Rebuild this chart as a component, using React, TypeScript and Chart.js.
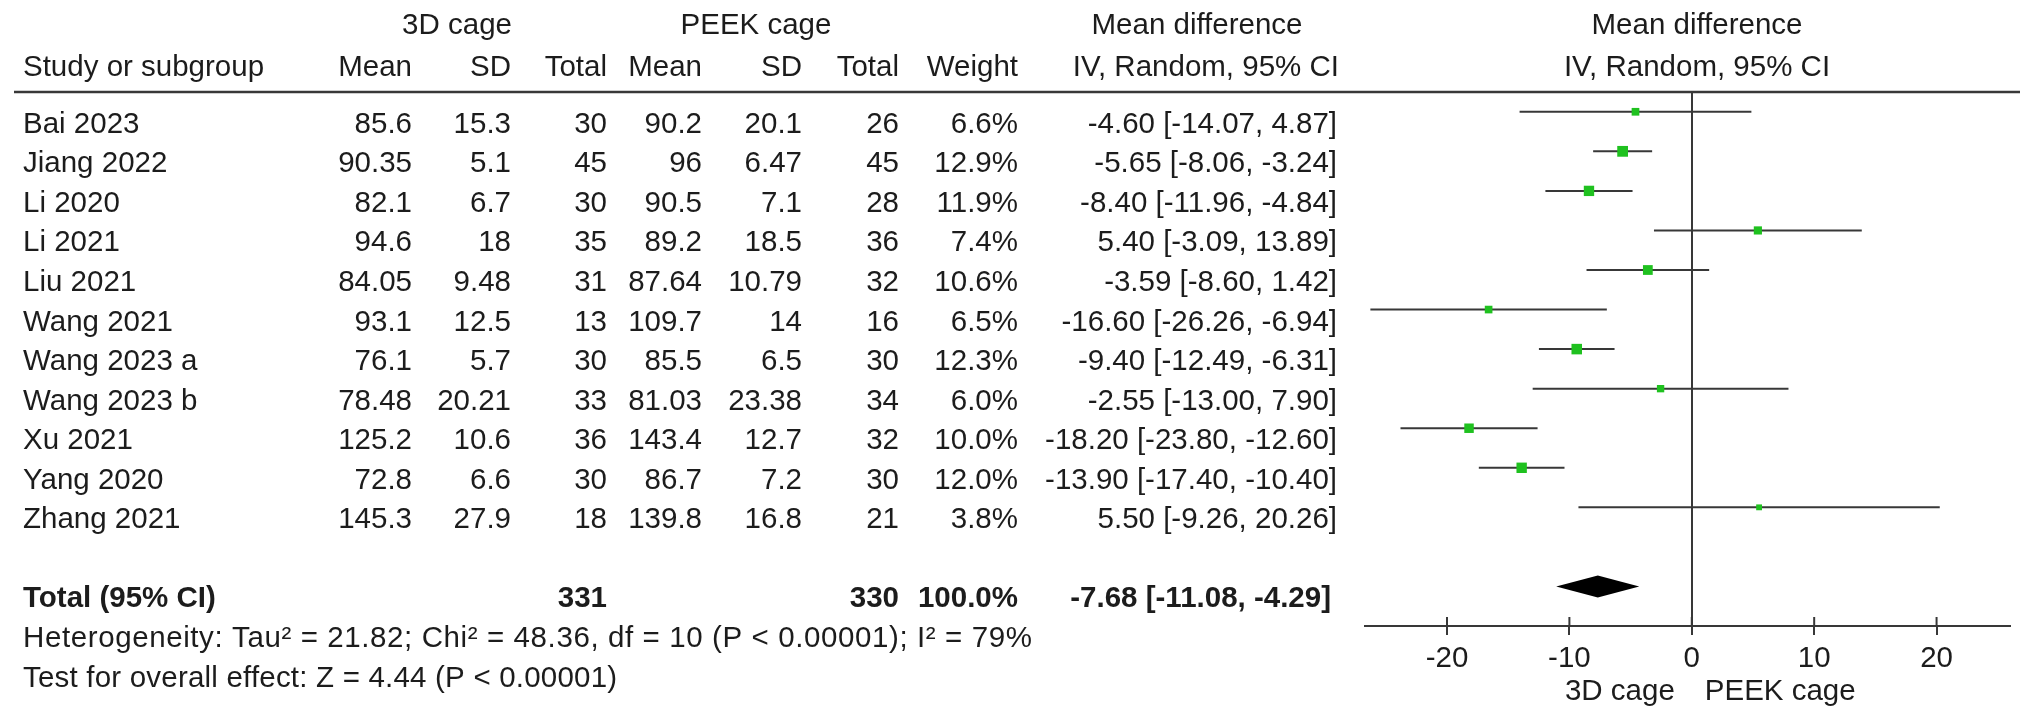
import React, { useEffect, useRef } from 'react';
import { Chart, registerables } from 'chart.js';

Chart.register(...registerables);

// ---------- data ----------
const studies = ['Bai 2023', 'Jiang 2022', 'Li 2020', 'Li 2021', 'Liu 2021', 'Wang 2021', 'Wang 2023 a', 'Wang 2023 b', 'Xu 2021', 'Yang 2020', 'Zhang 2021'];
const mean3d = [85.6, 90.35, 82.1, 94.6, 84.05, 93.1, 76.1, 78.48, 125.2, 72.8, 145.3];
const sd3d = [15.3, 5.1, 6.7, 18, 9.48, 12.5, 5.7, 20.21, 10.6, 6.6, 27.9];
const total3d = [30, 45, 30, 35, 31, 13, 30, 33, 36, 30, 18];
const meanPeek = [90.2, 96, 90.5, 89.2, 87.64, 109.7, 85.5, 81.03, 143.4, 86.7, 139.8];
const sdPeek = [20.1, 6.47, 7.1, 18.5, 10.79, 14, 6.5, 23.38, 12.7, 7.2, 16.8];
const totalPeek = [26, 45, 28, 36, 32, 16, 30, 34, 32, 30, 21];
const weights = [6.6, 12.9, 11.9, 7.4, 10.6, 6.5, 12.3, 6.0, 10.0, 12.0, 3.8];
const md = [-4.6, -5.65, -8.4, 5.4, -3.59, -16.6, -9.4, -2.55, -18.2, -13.9, 5.5];
const ciLow = [-14.07, -8.06, -11.96, -3.09, -8.6, -26.26, -12.49, -13.0, -23.8, -17.4, -9.26];
const ciHigh = [4.87, -3.24, -4.84, 13.89, 1.42, -6.94, -6.31, 7.9, -12.6, -10.4, 20.26];

const totalN3d = 331;
const totalNPeek = 330;
const totalWeight = 100.0;
const totalMd = -7.68;
const totalLow = -11.08;
const totalHigh = -4.29;

const heterogeneityText = 'Heterogeneity: Tau² = 21.82; Chi² = 48.36, df = 10 (P < 0.00001); I² = 79%';
const overallText = 'Test for overall effect: Z = 4.44 (P < 0.00001)';

const tickValues = [-20, -10, 0, 10, 20];
const favoursLeft = '3D cage';
const favoursRight = 'PEEK cage';

// ---------- style ----------
const W = 2032;
const H = 722;
const TEXT = '#1c1c1c';
const LINE = '#383838';
const GREEN = '#1fc11f';
const FONT_FAMILY = "'Liberation Sans', Arial, Helvetica, sans-serif";
const FS = 29.5;
const TEXT_OFFSET = 21; // baseline below row centre
const totalRowIndex = studies.length + 1;

const fmtCI = (m: number, l: number, h: number) => `${m.toFixed(2)} [${l.toFixed(2)}, ${h.toFixed(2)}]`;

const tablePlugin = {
  id: 'forestTable',
  afterDraw(chart: any) {
    const { ctx, chartArea } = chart;
    const xs = chart.scales.x;
    const ys = chart.scales.y;
    ctx.save();
    const txt = (s: string, px: number, py: number, align: CanvasTextAlign, bold = false, spacing = '0px') => {
      ctx.font = `${bold ? 'bold ' : ''}${FS}px ${FONT_FAMILY}`;
      ctx.textAlign = align;
      ctx.textBaseline = 'alphabetic';
      ctx.fillStyle = TEXT;
      (ctx as any).letterSpacing = spacing;
      ctx.fillText(s, px, py);
      (ctx as any).letterSpacing = '0px';
    };

    // column layout
    const cStudy = 23, cM1 = 412, cS1 = 511, cT1 = 607, cM2 = 702, cS2 = 802, cT2 = 899, cW = 1018, cCI = 1337;
    const plotCenter = 1697;

    // headers
    txt('3D cage', 457, 34, 'center');
    txt('PEEK cage', 756, 34, 'center');
    txt('Mean difference', 1197, 34, 'center');
    txt('Mean difference', plotCenter, 34, 'center');
    txt('Study or subgroup', cStudy, 76, 'left');
    txt('Mean', cM1, 76, 'right');
    txt('SD', cS1, 76, 'right');
    txt('Total', cT1, 76, 'right');
    txt('Mean', cM2, 76, 'right');
    txt('SD', cS2, 76, 'right');
    txt('Total', cT2, 76, 'right');
    txt('Weight', cW, 76, 'right');
    txt('IV, Random, 95% CI', cCI + 2, 76, 'right');
    txt('IV, Random, 95% CI', plotCenter, 76, 'center');

    // header rule
    ctx.strokeStyle = LINE;
    ctx.lineWidth = 2.5;
    ctx.beginPath();
    ctx.moveTo(14, chartArea.top);
    ctx.lineTo(2020, chartArea.top);
    ctx.stroke();

    // study rows
    studies.forEach((s, i) => {
      const by = ys.getPixelForValue(i) + TEXT_OFFSET;
      txt(s, cStudy, by, 'left');
      txt(String(mean3d[i]), cM1, by, 'right');
      txt(String(sd3d[i]), cS1, by, 'right');
      txt(String(total3d[i]), cT1, by, 'right');
      txt(String(meanPeek[i]), cM2, by, 'right');
      txt(String(sdPeek[i]), cS2, by, 'right');
      txt(String(totalPeek[i]), cT2, by, 'right');
      txt(`${weights[i].toFixed(1)}%`, cW, by, 'right');
      txt(fmtCI(md[i], ciLow[i], ciHigh[i]), cCI, by, 'right');
    });

    // total row
    const tby = ys.getPixelForValue(totalRowIndex) + TEXT_OFFSET;
    txt('Total (95% CI)', cStudy, tby, 'left', true);
    txt(String(totalN3d), cT1, tby, 'right', true);
    txt(String(totalNPeek), cT2, tby, 'right', true);
    txt(`${totalWeight.toFixed(1)}%`, cW, tby, 'right', true);
    txt(fmtCI(totalMd, totalLow, totalHigh), cCI - 6, tby, 'right', true);
    txt(heterogeneityText, cStudy, ys.getPixelForValue(totalRowIndex + 1) + TEXT_OFFSET, 'left', false, '0.6px');
    txt(overallText, cStudy, ys.getPixelForValue(totalRowIndex + 2) + TEXT_OFFSET, 'left', false, '0.2px');

    // diamond
    const dy = ys.getPixelForValue(totalRowIndex);
    const half = 11;
    ctx.fillStyle = '#000';
    ctx.beginPath();
    ctx.moveTo(xs.getPixelForValue(totalLow), dy);
    ctx.lineTo(xs.getPixelForValue(totalMd), dy - half);
    ctx.lineTo(xs.getPixelForValue(totalHigh), dy);
    ctx.lineTo(xs.getPixelForValue(totalMd), dy + half);
    ctx.closePath();
    ctx.fill();

    // upper half of axis ticks
    ctx.strokeStyle = LINE;
    ctx.lineWidth = 2;
    tickValues.forEach((v) => {
      const px = xs.getPixelForValue(v);
      ctx.beginPath();
      ctx.moveTo(px, chartArea.bottom - 9);
      ctx.lineTo(px, chartArea.bottom);
      ctx.stroke();
    });

    // favours labels
    const zx = xs.getPixelForValue(0);
    txt(favoursLeft, zx - 17, 700, 'right');
    txt(favoursRight, zx + 13, 700, 'left');

    ctx.restore();
  },
};

export default function App() {
  const ref = useRef<HTMLCanvasElement | null>(null);

  useEffect(() => {
    document.body.style.margin = '0';
    const canvas = ref.current;
    if (!canvas) return;

    const ciDatasets = studies.map((s, i) => ({
      label: s,
      data: [
        { x: ciLow[i], y: i },
        { x: ciHigh[i], y: i },
      ],
      showLine: true,
      borderColor: LINE,
      borderWidth: 2,
      pointRadius: 0,
      order: 2,
    }));

    const squares = {
      label: 'Mean difference',
      data: md.map((v, i) => ({ x: v, y: i })),
      pointStyle: 'rect',
      pointRadius: weights.map((w) => (3.0 * Math.sqrt(w)) / Math.SQRT2),
      backgroundColor: GREEN,
      borderColor: GREEN,
      borderWidth: 0,
      showLine: false,
      order: 0,
    };

    const chart = new Chart(canvas, {
      type: 'scatter',
      data: { datasets: [squares as any, ...ciDatasets] },
      plugins: [tablePlugin],
      options: {
        animation: false,
        responsive: false,
        devicePixelRatio: 1,
        layout: { padding: { left: 1365, right: 22, top: 92, bottom: 26 } },
        plugins: { legend: { display: false }, tooltip: { enabled: false } },
        scales: {
          x: {
            type: 'linear',
            min: -26.7,
            max: 26,
            afterBuildTicks: (scale: any) => {
              scale.ticks = tickValues.map((v) => ({ value: v }));
            },
            afterFit: (scale: any) => {
              scale.height = 70;
            },
            grid: {
              color: (c: any) => (c.tick && c.tick.value === 0 ? LINE : 'rgba(0,0,0,0)'),
              lineWidth: 2,
              tickLength: 9,
              tickColor: LINE,
              tickWidth: 2,
            },
            border: { display: true, color: LINE, width: 2 },
            ticks: {
              color: TEXT,
              padding: 6,
              font: { family: FONT_FAMILY, size: FS },
              maxRotation: 0,
            },
          },
          y: {
            type: 'linear',
            min: -0.5,
            max: totalRowIndex + 1,
            reverse: true,
            display: false,
          },
        },
      },
    });

    return () => chart.destroy();
  }, []);

  return (
    <div style={{ position: 'fixed', left: 0, top: 0, width: W, height: H, background: '#fff' }}>
      <canvas ref={ref} width={W} height={H} style={{ width: W, height: H, display: 'block' }} />
    </div>
  );
}
